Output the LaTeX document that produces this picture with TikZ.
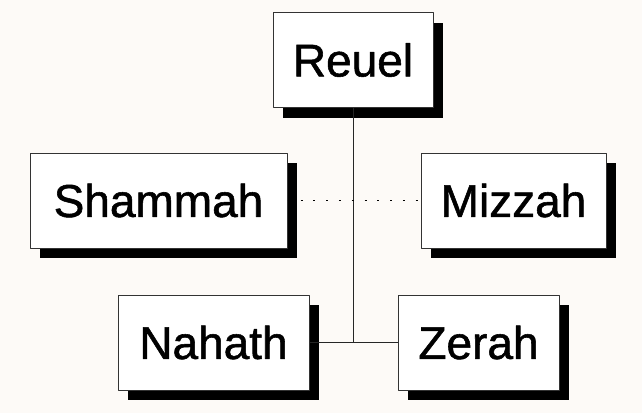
\documentclass[tikz,border=0pt]{standalone}
\usepackage{fontspec}
\setmainfont{Liberation Sans}
\newfontfamily\namefont{Liberation Sans}[FakeBold=1.2]
\usepackage{tikz}
\usetikzlibrary{shadows}
\definecolor{paper}{RGB}{253,250,247}

\begin{document}
\begin{tikzpicture}[x=1pt,y=-1pt,line join=round,
  person/.style={draw=black!80, line width=1pt, fill=white, inner sep=0pt,
    minimum height=95pt, font=\namefont\fontsize{46}{50}\selectfont,
    drop shadow={shadow xshift=10pt, shadow yshift=-10pt, fill=black, opacity=1}},
  link/.style={draw=black!85, line width=1pt}]

  % page
  \fill[paper] (0,0) rectangle (642,413);
  \useasboundingbox (0,0) rectangle (642,413);

  % father on top, sons below
  \node[person, minimum width=160pt] (reuel) at (353,60) {Reuel};
  \node[person, minimum width=257pt] (shammah) at (158.5,200.5) {Shammah};
  \node[person, minimum width=185pt] (mizzah) at (513.5,200.5) {Mizzah};
  \node[person, minimum width=191pt] (nahath) at (213.5,342.5) {Nahath};
  \node[person, minimum width=161pt] (zerah) at (478.5,342.5) {Zerah};

  \coordinate (junction) at (reuel.south |- nahath.east);

  % connectors
  \draw[link] (reuel.south) -- (junction);
  \draw[link] (nahath.east) -- (zerah.west);
  \draw[link, draw=black, line width=1.8pt, dash pattern=on 2pt off 10.8pt,
    dash phase=-13pt] (shammah.east) -- (mizzah.west);

\end{tikzpicture}
\end{document}
